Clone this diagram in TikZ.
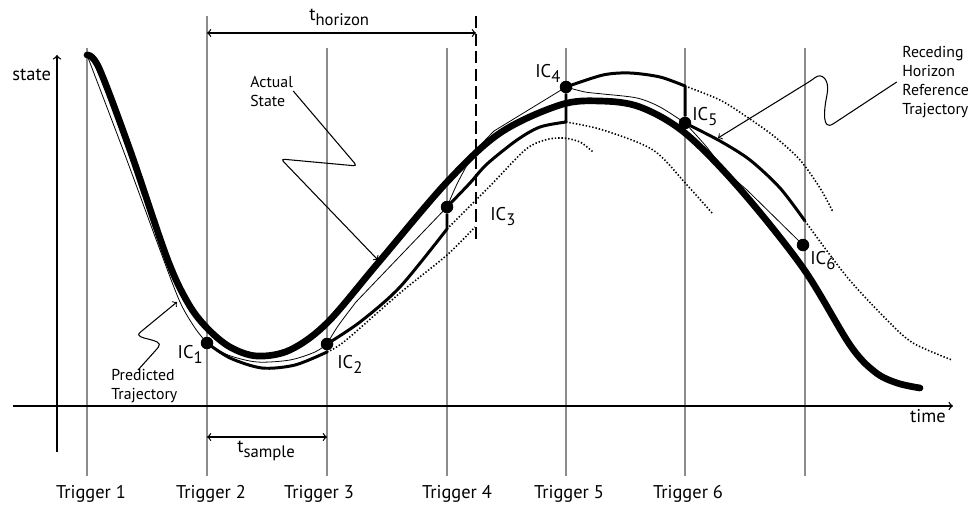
\documentclass[tikz,border=0pt]{standalone}
\usepackage{fontspec}
\setmainfont{PT Sans}
\newcommand{\lowsub}[1]{\raisebox{-0.55ex}{\fontsize{9.5}{10}\selectfont #1}}
\begin{document}
\begin{tikzpicture}[x=0.02cm, y=-0.02cm,
  font=\fontsize{10.5}{12}\selectfont,
  trig/.style={black!45, line width=0.8pt},
  actual/.style={line width=3.8pt, line cap=round, line join=round},
  pred/.style={line width=0.45pt},
  recede/.style={line width=1.7pt, line join=round},
  ahead/.style={line width=0.9pt, dash pattern=on 0.8pt off 1.1pt},
  icdot/.style={circle, fill, inner sep=0pt, minimum size=0.25cm},
  note/.style={font=\fontsize{9}{10.8}\selectfont, align=left, inner sep=0pt},
  lead/.style={line width=0.6pt, ->, rounded corners=2pt}]
\useasboundingbox (0,0) rectangle (974,504);

\foreach \x/\t in {87/48, 207/16, 327/48, 447/48, 566/48, 685/48, 805/48}
  \draw[trig] (\x,\t) -- (\x,476);
\foreach \x/\n in {91/1, 211/2, 319/3, 457/4, 569/5, 688/6}
  \node[anchor=base, inner sep=0pt] (trig\n) at (\x,498) {Trigger \n};

\draw[line width=0.8pt, ->] (57,452) -- (57,55);
\draw[line width=0.8pt, ->] (13,406) -- (953,406);
\node[anchor=base west, inner sep=0pt] (state) at (12,80) {state};
\node[anchor=base east, inner sep=0pt] (time) at (946,422) {time};

\draw[line width=1pt, dash pattern=on 7pt off 3pt] (476,16) -- (476,240);
\coordinate (hz) at (476,33);
\coordinate (tr2) at (207,33);
\draw[line width=0.7pt, <->] (tr2) -- (hz);
\node[anchor=base west, inner sep=0pt] (thor) at (309,20) {t\lowsub{horizon}};
\coordinate (sa) at (207,437);
\coordinate (sb) at (327,437);
\draw[line width=0.7pt, <->] (sa) -- (sb);
\node[anchor=base west, inner sep=0pt] (tsam) at (237,452) {t\lowsub{sample}};

\node[icdot] (ic1) at (207,343) {};
\node[icdot] (ic2) at (327,344) {};
\node[icdot] (ic3) at (447,207) {};
\node[icdot] (ic4) at (566,87) {};
\node[icdot] (ic5) at (685,123) {};
\node[icdot] (ic6) at (803,245) {};
\coordinate (p1e) at (327,352);
\coordinate (p2e) at (447,229);
\coordinate (p3e) at (566,122);
\coordinate (p4e) at (685,86);
\coordinate (p5e) at (805,221);

\draw[pred] plot[smooth] coordinates {(87,55) (125,155) (160,250) (180,302) (195,328) (207,343)};
\draw[pred] plot[smooth] coordinates {(207,343) (228,355) (257,362) (290,360) (315,352) (327,344)};
\draw[pred] plot[smooth] coordinates {(327,344) (338,326) (356,302)} -- (ic3.center);
\draw[pred] plot[smooth] coordinates {(447,207) (458,182) (475,152) (494,131)} -- (ic4.center);
\draw[pred] plot[smooth] coordinates {(566,87) (585,92) (603,94) (637,98) (660,107) (685,123)};
\draw[pred] plot[smooth] coordinates {(685,123) (705,145) (725,170) (747,190)} -- (ic6.center);

\draw[recede] plot[smooth] coordinates {(207,343) (230,358) (262,368) (295,365) (327,352)} -- (ic2);
\draw[recede] plot[smooth] coordinates {(327,344) (360,322) (400,287) (447,229)} -- (ic3);
\draw[recede] plot[smooth] coordinates {(447,207) (470,183) (487,164) (517,140) (540,127) (566,122)} -- (ic4);
\draw[recede] plot[smooth] coordinates {(566,87) (603,75) (630,73) (660,77) (685,86)} -- (ic5);
\draw[recede] plot[smooth] coordinates {(685,123) (720,141) (750,160) (780,188) (805,221)};

\draw[ahead] plot[smooth] coordinates {(p1e) (345,341) (400,293) (447,255) (475,227)};
\draw[ahead] plot[smooth] coordinates {(p2e) (490,186) (525,150) (545,140) (563,138) (580,142) (593,152)};
\draw[ahead] plot[smooth] coordinates {(p3e) (603,130) (653,150) (687,185) (712,213)};
\draw[ahead] plot[smooth] coordinates {(p4e) (720,100) (747,117) (775,137) (800,160) (820,188) (833,212)};
\draw[ahead] plot[smooth] coordinates {(p5e) (847,277) (887,320) (913,343) (952,360)};

\draw[actual] plot[smooth, tension=0.55] coordinates {(87,55) (99,68) (130,150) (167,258) (188,303) (207,328) (230,347) (257,356) (290,350) (327,323) (378,263) (447,182) (500,133) (560,105) (600,101) (640,107) (685,133) (740,189) (803,268) (850,345) (875,372) (897,383) (920,388)};

\node[anchor=base east, inner sep=0pt] (l1) at (203,358) {IC\lowsub{1}};
\node[anchor=base west, inner sep=0pt] (l2) at (337,368) {IC\lowsub{2}};
\node[anchor=base west, inner sep=0pt] (l3) at (490,220) {IC\lowsub{3}};
\node[anchor=base west, inner sep=0pt] (l4) at (535,77) {IC\lowsub{4}};
\node[anchor=base west, inner sep=0pt] (l5) at (692,120) {IC\lowsub{5}};
\node[anchor=base west, inner sep=0pt] (l6) at (810,264) {IC\lowsub{6}};

\node[note, anchor=west] (actst) at (250,91) {Actual\\State};
\coordinate (astip) at (378,260);
\draw[lead] (actst.east) -- (357,166) -- (281,159) -- (astip);
\node[note, anchor=west] (predtr) at (111,386) {Predicted\\Trajectory};
\coordinate (pttip) at (177,302);
\draw[lead] (138,370) -- (156,350) .. controls (166,338) and (131,340) .. (143,330) -- (pttip);
\node[note, anchor=west] (rhrt) at (902,82) {Receding\\Horizon\\Reference\\Trajectory};
\coordinate (rttip) at (718,138);
\draw[lead] ([xshift=-3pt]rhrt.west) -- (836,122) .. controls (822,131) and (824,110) .. (827,95) .. controls (829,80) and (822,72) .. (812,80) -- (rttip);
\end{tikzpicture}
\end{document}
